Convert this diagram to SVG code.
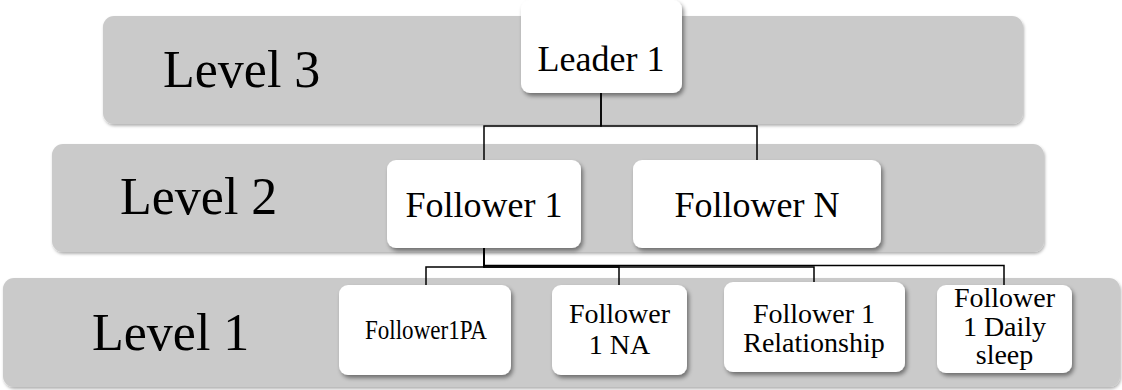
<svg xmlns="http://www.w3.org/2000/svg" width="1122" height="390" viewBox="0 0 1122 390">
<style>
.band{fill:#cacaca;filter:url(#bs);}
.box{fill:#ffffff;filter:url(#ds);}
.lvl{font-size:52px;fill:#000;}
.t{font-size:36px;fill:#000;text-anchor:middle;}
.s{font-size:28px;fill:#000;text-anchor:middle;}
.c{fill:none;stroke:#000;stroke-width:1.5;}
</style>
<defs>
<filter id="ds" x="-10%" y="-10%" width="130%" height="140%">
<feDropShadow dx="2" dy="3" stdDeviation="2" flood-color="#000" flood-opacity="0.45"/>
</filter>
<filter id="bs" x="-5%" y="-10%" width="110%" height="130%">
<feDropShadow dx="1" dy="2" stdDeviation="1.5" flood-color="#000" flood-opacity="0.3"/>
</filter>
</defs>
<g font-family="Liberation Serif, serif">
<g id="level3">
<rect class="band" x="103" y="16" width="920" height="108" rx="11"/>
<text class="lvl" x="163" y="87">Level 3</text>
</g>
<g id="level2">
<rect class="band" x="52" y="144" width="992" height="108" rx="11"/>
<text class="lvl" x="120" y="214">Level 2</text>
</g>
<g id="level1">
<rect class="band" x="3" y="278" width="1117" height="109" rx="11"/>
<text class="lvl" x="92" y="350">Level 1</text>
</g>
<g id="connectors">
<path class="c" d="M601 93 V126 H484 V160"/>
<path class="c" d="M601 93 V126 H757 V160"/>
<path class="c" d="M484 248 V267 H426 V285"/>
<path class="c" d="M484 248 V267 H619 V285"/>
<path class="c" d="M484 248 V267 H814 V282"/>
<path class="c" d="M484 248 V265.5 H1004 V285"/>
</g>
<g id="leader1">
<rect class="box" x="521" y="0" width="161" height="93" rx="9"/>
<text class="t" x="601" y="71">Leader 1</text>
</g>
<g id="follower1">
<rect class="box" x="387" y="160" width="194" height="88" rx="9"/>
<text class="t" x="484" y="217">Follower 1</text>
</g>
<g id="followerN">
<rect class="box" x="633" y="160" width="248" height="88" rx="9"/>
<text class="t" x="757" y="217">Follower N</text>
</g>
<g id="f1pa">
<rect class="box" x="339" y="285" width="172" height="90" rx="9"/>
<text class="s" x="426" y="339" textLength="122" lengthAdjust="spacingAndGlyphs">Follower1PA</text>
</g>
<g id="f1na">
<rect class="box" x="552" y="285" width="135" height="90" rx="9"/>
<text class="s" x="619.5" y="323">Follower</text>
<text class="s" x="619.5" y="354">1 NA</text>
</g>
<g id="f1rel">
<rect class="box" x="724" y="282" width="181" height="90" rx="9"/>
<text class="s" x="814" y="323">Follower 1</text>
<text class="s" x="814" y="352">Relationship</text>
</g>
<g id="f1sleep">
<rect class="box" x="937" y="285" width="135" height="88" rx="9"/>
<text class="s" x="1004.5" y="307">Follower</text>
<text class="s" x="1004.5" y="336">1 Daily</text>
<text class="s" x="1004.5" y="364">sleep</text>
</g>
</g>
</svg>
